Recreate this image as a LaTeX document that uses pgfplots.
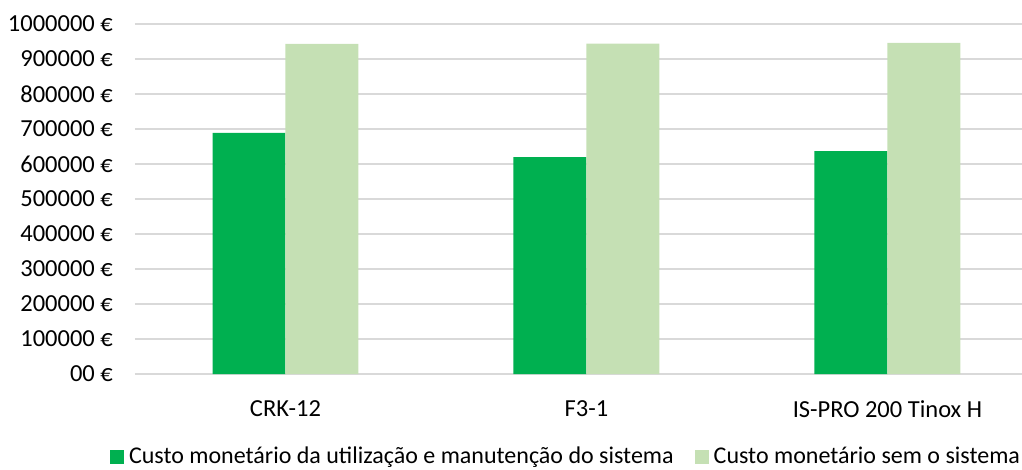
\documentclass[border=0pt]{standalone}
\usepackage{pgfplots}
\pgfplotsset{compat=1.18}
\usepackage{fontspec}
\setmainfont{Carlito}
\definecolor{darkgreen}{HTML}{00B050}
\definecolor{lightgreen}{HTML}{C5E0B4}
\definecolor{gridgray}{HTML}{D9D9D9}

\begin{document}
\fontsize{24}{28}\selectfont
\begin{tikzpicture}
\begin{axis}[
    scale only axis,
    width=887pt,
    height=350pt,
    xmin=-0.5, xmax=2.447,
    ymin=0, ymax=1000000,
    scaled y ticks=false,
    xtick={0,1,2},
    xticklabels={CRK-12, F3-1, IS-PRO 200 Tinox H},
    ytick={0,100000,...,1000000},
    yticklabels={00 €, 100000 €, 200000 €, 300000 €, 400000 €, 500000 €, 600000 €, 700000 €, 800000 €, 900000 €, 1000000 €},
    major tick length=0pt,
    axis line style={draw=none},
    ymajorgrids,
    grid style={gridgray, line width=1.5pt},
    tick label style={font=\fontsize{24.5}{28}\selectfont, text=black},
    yticklabel style={anchor=east, inner sep=0pt, xshift=-22pt},
    xticklabel style={anchor=north, inner sep=0pt, yshift=-26pt},
    clip=false,
    legend style={at={(0.4848,-0.236)}, anchor=center, draw=none, fill=none,
        font=\fontsize{24}{28}\selectfont, legend columns=2,
        nodes={inner sep=0pt},
        /tikz/every odd column/.append style={column sep=5pt},
        /tikz/every even column/.append style={column sep=21pt}},
    legend image code/.code={\path[#1, draw=none] (0pt,-7pt) rectangle (14pt,7pt);},
]
\addplot[ybar, bar width=0.2425, bar shift=-0.12125, fill=darkgreen, draw=none]
    coordinates {(0,689000) (1,620000) (2,637000)};
\addlegendentry{Custo monetário da utilização e manutenção do sistema}
\addplot[ybar, bar width=0.2425, bar shift=0.12125, fill=lightgreen, draw=none]
    coordinates {(0,943000) (1,944000) (2,946000)};
\addlegendentry{Custo monetário sem o sistema}
\end{axis}
\pgfresetboundingbox
\path[use as bounding box] (-135pt,-95pt) rectangle (887pt,374pt);
\end{tikzpicture}
\end{document}
